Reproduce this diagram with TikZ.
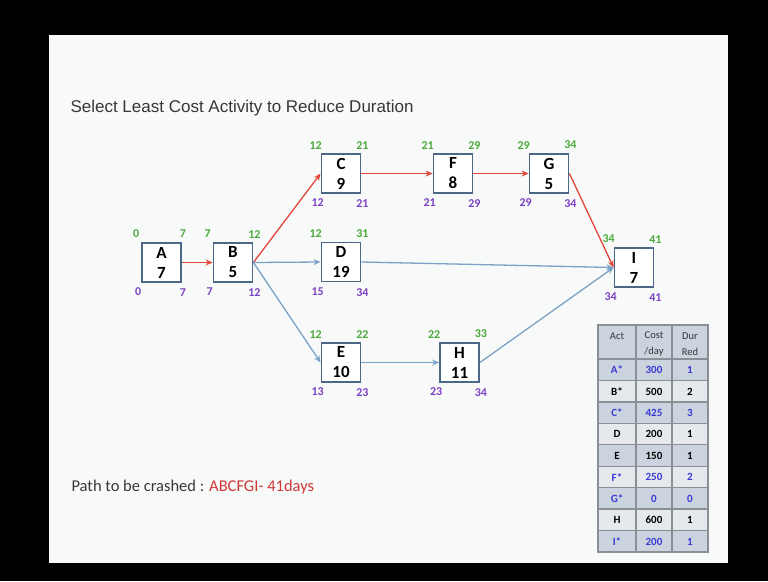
\documentclass[tikz,border=0pt]{standalone}
\usepackage{fontspec}
\setmainfont{Carlito}
\newfontfamily\arialfont{Liberation Sans}
\usetikzlibrary{arrows.meta}
\definecolor{esgreen}{RGB}{75,170,60}
\definecolor{lspurple}{RGB}{125,65,195}
\definecolor{boxblue}{RGB}{75,105,135}
\definecolor{critred}{RGB}{228,70,58}
\definecolor{flowblue}{RGB}{125,162,200}
\definecolor{slidebg}{RGB}{247,250,248}
\definecolor{tabdark}{RGB}{203,211,222}
\definecolor{tablight}{RGB}{229,233,238}
\definecolor{tabline}{RGB}{138,143,150}
\definecolor{tabblue}{RGB}{58,58,212}
\definecolor{crashred}{RGB}{205,55,55}
\definecolor{textgrey}{RGB}{55,55,55}

\begin{document}
\begin{tikzpicture}[x=1pt,y=-1pt]
\tikzset{act/.style = {draw=boxblue, line width=1.8pt, fill=white, minimum size=39pt, inner sep=0pt, align=center, font=\fontsize{17}{20}\selectfont\bfseries}}
\tikzset{es/.style = {text=esgreen, font=\fontsize{12}{12}\selectfont\bfseries, xshift=-5pt, yshift=8pt}}
\tikzset{ef/.style = {text=esgreen, font=\fontsize{12}{12}\selectfont\bfseries, xshift=1pt, yshift=8pt}}
\tikzset{ls/.style = {text=lspurple, font=\fontsize{12}{12}\selectfont\bfseries, xshift=-3pt, yshift=-9pt}}
\tikzset{lf/.style = {text=lspurple, font=\fontsize{12}{12}\selectfont\bfseries, xshift=1pt, yshift=-10pt}}
\tikzset{crit/.style = {-{Stealth[length=7pt,width=6pt]}, critred, line width=1.3pt}}
\tikzset{flow/.style = {-{Stealth[length=7pt,width=6pt]}, flowblue, line width=1.3pt}}
\tikzset{cell/.style = {font=\fontsize{11}{12}\selectfont\bfseries, inner sep=0pt}}
\tikzset{head/.style = {font=\fontsize{10.5}{15.5}\selectfont, text=textgrey, align=center, inner sep=0pt}}

% slide
\fill[black] (0,0) rectangle (768,581);
\fill[slidebg] (49,35) rectangle (728,563);

\node[anchor=base west, text=textgrey, font=\arialfont\fontsize{17}{20}\selectfont] (title) at (67,112) {Select Least Cost Activity to Reduce Duration};

% activities
\node[act] (a) at (161.5,262.5) {A\\7};
\node[act] (b) at (233,262.5) {B\\5};
\node[act] (c) at (341,173.5) {C\\9};
\node[act] (d) at (341,262) {D\\19};
\node[act] (e) at (341,362.5) {E\\10};
\node[act] (f) at (453,173.5) {F\\8};
\node[act] (g) at (549,173.5) {G\\5};
\node[act] (h) at (459.5,362.5) {H\\11};
\node[act] (i) at (634,267.5) {I\\7};

% early / late times
\node[es] (a-es) at (a.north west) {0};
\node[ef] (a-ef) at (a.north east) {7};
\node[ls] (a-ls) at (a.south west) {0};
\node[lf] (a-lf) at (a.south east) {7};
\node[es] (b-es) at (b.north west) {7};
\node[ef] (b-ef) at (b.north east) {12};
\node[ls] (b-ls) at (b.south west) {7};
\node[lf] (b-lf) at (b.south east) {12};
\node[es] (c-es) at (c.north west) {12};
\node[ef] (c-ef) at (c.north east) {21};
\node[ls] (c-ls) at (c.south west) {12};
\node[lf] (c-lf) at (c.south east) {21};
\node[es] (d-es) at (d.north west) {12};
\node[ef] (d-ef) at (d.north east) {31};
\node[ls] (d-ls) at (d.south west) {15};
\node[lf] (d-lf) at (d.south east) {34};
\node[es] (e-es) at (e.north west) {12};
\node[ef] (e-ef) at (e.north east) {22};
\node[ls] (e-ls) at (e.south west) {13};
\node[lf] (e-lf) at (e.south east) {23};
\node[es] (f-es) at (f.north west) {21};
\node[ef] (f-ef) at (f.north east) {29};
\node[ls] (f-ls) at (f.south west) {21};
\node[lf] (f-lf) at (f.south east) {29};
\node[es] (g-es) at (g.north west) {29};
\node[ef] (g-ef) at (g.north east) {34};
\node[ls] (g-ls) at (g.south west) {29};
\node[lf] (g-lf) at (g.south east) {34};
\node[es] (h-es) at (h.north west) {22};
\node[ef] (h-ef) at (h.north east) {33};
\node[ls] (h-ls) at (h.south west) {23};
\node[lf] (h-lf) at (h.south east) {34};
\node[es] (i-es) at (i.north west) {34};
\node[ef] (i-ef) at (i.north east) {41};
\node[ls] (i-ls) at (i.south west) {34};
\node[lf] (i-lf) at (i.south east) {41};

% links
\draw[crit] (a) -- (b);
\draw[crit] (b.east) -- (c.west);
\draw[crit] (c) -- (f);
\draw[crit] (f) -- (g);
\draw[crit] (g.east) -- (i.west);
\draw[flow] (b.east) -- (d.west);
\draw[flow] (b.east) -- (e.west);
\draw[flow] (d.east) -- (i.west);
\draw[flow] (e) -- (h);
\draw[flow] (h.east) -- (i.west);

\node[anchor=base west, text=textgrey, font=\fontsize{16.5}{20}\selectfont] (path) at (68,491) {Path to be crashed : \textcolor{crashred}{ABCFGI- 41days}};

% crash table
\fill[tabdark] (598,325) rectangle (708,359);
\node[head] (h-act) at (617,336) {Act};
\node[head] (h-cost) at (654,344) {Cost\\/day};
\node[head] (h-red) at (690,344) {Dur\\Red};
\foreach \n/\cost/\red/\col/\bg [count=\k from 0] in {A*/300/1/tabblue/tabdark, B*/500/2/black/tablight, C*/425/3/tabblue/tabdark, D/200/1/black/tablight, E/150/1/black/tabdark, F*/250/2/tabblue/tablight, G*/0/0/tabblue/tabdark, H/600/1/black/tablight, I*/200/1/tabblue/tabdark} {
  \fill[\bg] (598,{359+\k*21.44}) rectangle (708,{380.44+\k*21.44});
  \node[cell, text=\col] (t-act\k) at (617,{370+\k*21.44}) {\n};
  \node[cell, text=\col] (t-cost\k) at (654,{370+\k*21.44}) {\cost};
  \node[cell, text=\col] (t-red\k) at (690,{370+\k*21.44}) {\red};
  \draw[tabline, line width=1.3pt] (598,{359+\k*21.44}) -- (708,{359+\k*21.44});
}
\draw[tabline, line width=1.3pt] (636,325) -- (636,552) (672,325) -- (672,552);
\draw[tabline, line width=1.5pt] (598,325) rectangle (708,552);
\end{tikzpicture}
\end{document}
